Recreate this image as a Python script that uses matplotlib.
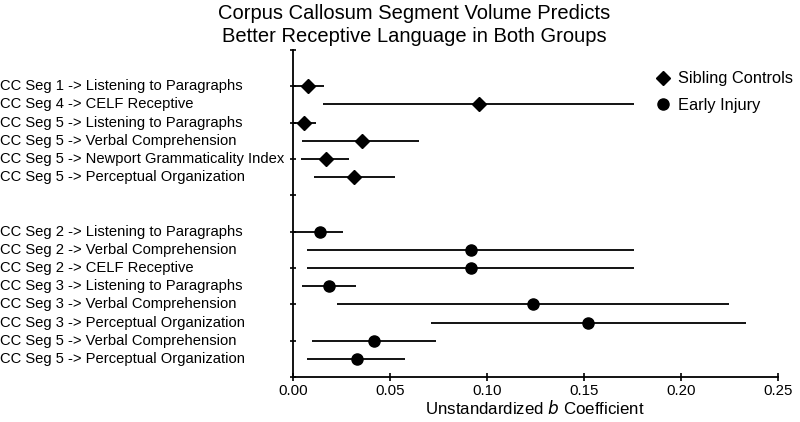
import matplotlib
matplotlib.use("Agg")
import matplotlib.pyplot as plt
import matplotlib.transforms as mtransforms

plt.rcParams['font.family'] = ['Liberation Sans', 'DejaVu Sans']

sib_labels = [
    "CC Seg 1 -> Listening to Paragraphs",
    "CC Seg 4 -> CELF Receptive",
    "CC Seg 5 -> Listening to Paragraphs",
    "CC Seg 5 -> Verbal Comprehension",
    "CC Seg 5 -> Newport Grammaticality Index",
    "CC Seg 5 -> Perceptual Organization",
]
sib_b = [0.008, 0.096, 0.006, 0.0355, 0.017, 0.0315]
sib_lo = [-0.002, 0.0155, -0.002, 0.0045, 0.004, 0.011]
sib_hi = [0.016, 0.176, 0.012, 0.065, 0.029, 0.0525]

inj_labels = [
    "CC Seg 2 -> Listening to Paragraphs",
    "CC Seg 2 -> Verbal Comprehension",
    "CC Seg 2 -> CELF Receptive",
    "CC Seg 3 -> Listening to Paragraphs",
    "CC Seg 3 -> Verbal Comprehension",
    "CC Seg 3 -> Perceptual Organization",
    "CC Seg 5 -> Verbal Comprehension",
    "CC Seg 5 -> Perceptual Organization",
]
inj_b = [0.014, 0.092, 0.092, 0.0185, 0.124, 0.152, 0.042, 0.033]
inj_lo = [-0.002, 0.0075, 0.0075, 0.0045, 0.023, 0.071, 0.010, 0.0075]
inj_hi = [0.026, 0.176, 0.176, 0.0325, 0.225, 0.2335, 0.074, 0.058]

sib_pos = list(range(0, 6))
inj_pos = list(range(8, 16))

fig = plt.figure(figsize=(8.0, 4.22), dpi=100)
ax = fig.add_axes([0.366, 0.1066, 0.6065, 0.775])

lw = 1.3
for y, lo, hi in zip(sib_pos, sib_lo, sib_hi):
    ax.plot([max(lo, 0), hi], [y, y], color='black', lw=lw, solid_capstyle='butt', clip_on=False, zorder=2)
for y, lo, hi in zip(inj_pos, inj_lo, inj_hi):
    ax.plot([max(lo, 0), hi], [y, y], color='black', lw=lw, solid_capstyle='butt', clip_on=False, zorder=2)

h1, = ax.plot(sib_b, sib_pos, linestyle='none', marker='D', ms=7.2, color='black', zorder=3, label='Sibling Controls')
h2, = ax.plot(inj_b, inj_pos, linestyle='none', marker='o', ms=8, color='black', zorder=3, label='Early Injury')

ax.set_xlim(0, 0.25)
ax.set_ylim(16, -2)
ax.set_xticks([0.00, 0.05, 0.10, 0.15, 0.20, 0.25])
ax.set_xticklabels(["0.00", "0.05", "0.10", "0.15", "0.20", "0.25"], fontsize=10.8)
ax.set_yticks(list(range(-2, 17, 2)))
ax.set_yticklabels([])
ax.tick_params(axis='x', direction='inout', length=6, width=1.2, pad=2)
ax.tick_params(axis='y', direction='inout', length=5, width=1.2)
for s in ['top', 'right']:
    ax.spines[s].set_visible(False)
for s in ['left', 'bottom']:
    ax.spines[s].set_linewidth(1.3)

trans = mtransforms.blended_transform_factory(fig.transFigure, ax.transData)
for y, lab in zip(sib_pos + inj_pos, sib_labels + inj_labels):
    ax.text(0.0, y, lab, transform=trans, ha='left', va='center', fontsize=10.6)

ax.set_xlabel("Unstandardized $\\it{b}$ Coefficient", fontsize=12.2, labelpad=1)

fig.text(0.518, 0.99, "Corpus Callosum Segment Volume Predicts\nBetter Receptive Language in Both Groups",
         ha='center', va='top', fontsize=14.5, linespacing=1.25)

ax.legend(handles=[h1, h2], loc='upper left', bbox_to_anchor=(0.725, 0.96), frameon=False,
          fontsize=11.8, handletextpad=0.35, borderpad=0, labelspacing=0.7, handlelength=1.2)

fig.savefig("out.png", dpi=100)
